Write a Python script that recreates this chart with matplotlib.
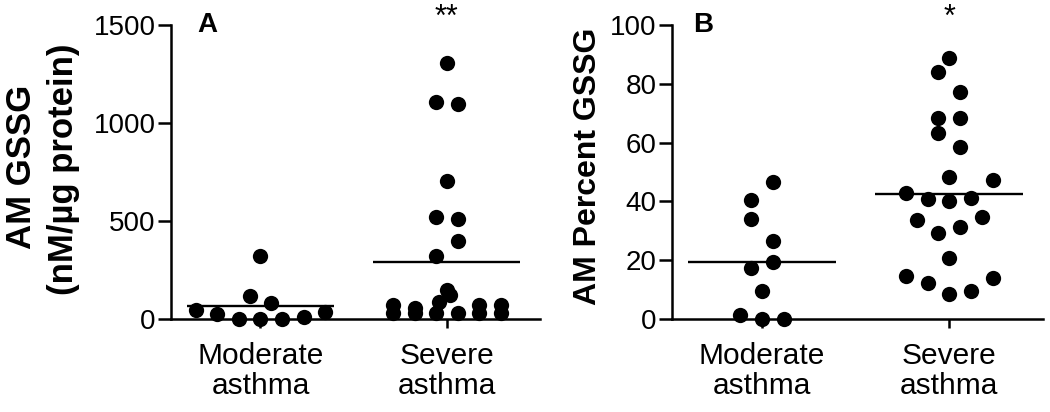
import matplotlib
matplotlib.use("Agg")
import matplotlib.pyplot as plt

plt.rcParams['font.family'] = ['Liberation Sans', 'DejaVu Sans']

categories = ["Moderate\nasthma", "Severe\nasthma"]

# Panel A: AM GSSG (nM/µg protein)
a_moderate = [46, 25, 0, 0, 0, 10, 35, 117, 82, 321]
a_severe = [1306, 1107, 1097, 704, 520, 510, 398, 321, 148, 122, 87,
            71, 31, 56, 31, 31, 31, 71, 31, 71, 31]
a_means = [65, 291]

# Panel B: AM Percent GSSG
b_moderate = [46.5, 40.5, 34, 26.6, 17.5, 19.3, 9.6, 1.4, 0, 0]
b_severe = [88.7, 83.9, 77.3, 68.3, 68.5, 63.4, 58.6, 48.4, 47.3, 43, 40.7,
            40.2, 41, 33.7, 29.1, 31.2, 34.8, 20.6, 14.6, 12.3, 8.5, 9.6, 13.8]
b_means = [19.5, 42.6]

# scatter column offsets (layout only, in half-marker units)
a_mod_off = [-6, -4, -2, 0, 2, 4, 6, -1, 1, 0]
a_sev_off = [0, -1, 1, 0, -1, 1, 1, -1, 0, 0.3, -0.7,
             -5, -5, -3, -3, -1, 1, 3, 3, 5, 5]
b_mod_off = [1, -1, -1, 1, -1, 1, 0, -2, 0, 2]
b_sev_off = [0, -1, 1, -1, 1, -1, 1, 0, 4, -4, -2, 0, 2, -3, -1, 1, 3,
             0, -4, -2, 0, 2, 4]

UNIT = 0.0578

fig = plt.figure(figsize=(10.5, 4.12), dpi=100)
axA = fig.add_axes([171/1050, 93/412, 369/1050, 294/412])
axB = fig.add_axes([672/1050, 93/412, 371/1050, 294/412])


def draw(ax, groups, offsets, means, ylim, yticks, letter, letter_x, star):
    for i, (vals, offs) in enumerate(zip(groups, offsets)):
        xs = [i + o * UNIT for o in offs]
        ax.plot(xs, vals, 'o', color='black', markersize=11,
                markeredgewidth=0, clip_on=False, zorder=3)
        ax.hlines(means[i], i - 0.395, i + 0.395, color='black', lw=1.7,
                  zorder=2)
    ax.set_xlim(-0.48, 1.5)
    ax.set_ylim(*ylim)
    ax.set_yticks(yticks)
    ax.set_xticks([0, 1])
    ax.set_xticklabels(categories, fontsize=21.5, linespacing=1.1)
    ax.tick_params(axis='y', labelsize=20, length=9.5, width=1.8, pad=1.5,
                   direction='out')
    ax.tick_params(axis='x', length=6.5, width=1.8, pad=10, direction='out')
    for s in ['top', 'right']:
        ax.spines[s].set_visible(False)
    for s in ['left', 'bottom']:
        ax.spines[s].set_linewidth(1.8)
    ax.text(letter_x, 1.0, letter, transform=ax.transAxes, fontsize=20,
            fontweight='bold', ha='center', va='center')
    ax.text(1, 1.025, star, transform=ax.get_xaxis_transform(), fontsize=22,
            ha='center', va='center')


draw(axA, [a_moderate, a_severe], [a_mod_off, a_sev_off], a_means,
     (0, 1500), [0, 500, 1000, 1500], "A", 0.098, "**")
draw(axB, [b_moderate, b_severe], [b_mod_off, b_sev_off], b_means,
     (0, 100), [0, 20, 40, 60, 80, 100], "B", 0.084, "*")

# y-axis titles
fig.text(22/1050, 1 - 167/412, "AM GSSG", rotation=90, fontsize=25,
         fontweight='bold', ha='center', va='center')
fig.text(63/1050, 1 - 169/412, "(nM/µg protein)", rotation=90, fontsize=25,
         fontweight='bold', ha='center', va='center')
fig.text(588/1050, 1 - 166/412, "AM Percent GSSG", rotation=90, fontsize=23,
         fontweight='bold', ha='center', va='center')

fig.savefig("out.png", dpi=100)
